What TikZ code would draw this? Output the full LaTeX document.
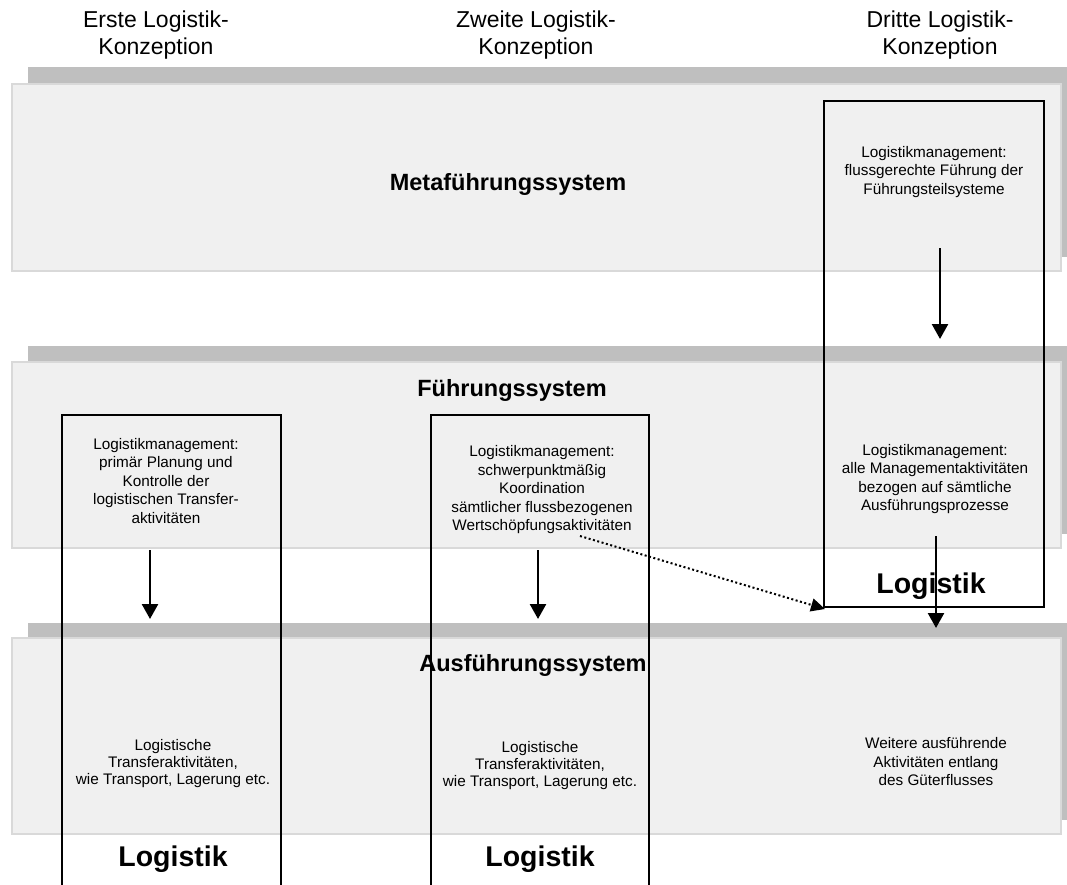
\documentclass[tikz,border=0pt]{standalone}
\usepackage{fontspec}
\setmainfont{Liberation Sans}
\usetikzlibrary{arrows.meta}
\tikzset{
	layer/.style={draw=black!15, line width=2pt, fill=black!6},
	layershadow/.style={fill=black!25},
	logbox/.style={line width=2pt},
	boxtext/.style={align=center, font=\fontsize{15.3}{18.5}\selectfont},
	exectext/.style={align=center, font=\fontsize{15.3}{17}\selectfont},
	headtext/.style={align=center, font=\fontsize{23}{27}\selectfont},
	layertitle/.style={font=\fontsize{23.5}{28}\selectfont\bfseries},
	logtitle/.style={font=\fontsize{28.5}{32}\selectfont\bfseries},
	flow/.style={line width=2.5pt, -{Triangle[length=15pt,width=16pt]}},
	hint/.style={line width=2pt, dash pattern=on 2pt off 2.5pt, -{Triangle[length=14pt,width=13pt]}}
}
\begin{document}
\begin{tikzpicture}[x=1pt, y=-1pt]
			%%%%% START %%%%%
			\useasboundingbox (0, 0) rectangle (1067, 885);
			
			% drei Schichten mit Schatten
			\fill[layershadow] (28, 67) rectangle (1067, 257);
			\draw[layer] (12, 84) rectangle (1061, 271);
			\fill[layershadow] (28, 346) rectangle (1067, 534);
			\draw[layer] (12, 362) rectangle (1061, 548);
			\fill[layershadow] (28, 623) rectangle (1067, 820);
			\draw[layer] (12, 638) rectangle (1061, 834);
			
			\node[layertitle] (meta) at (508, 184) {Metaführungssystem};
			\node[layertitle] (fuehr) at (512, 390) {Führungssystem};
			\node[layertitle] (ausf) at (533, 665) {Ausführungssystem};
			
			% Spaltenkoepfe
			\node[headtext] (hdA) at (156, 35) {Erste Logistik-\\Konzeption};
			\node[headtext] (hdB) at (536, 35) {Zweite Logistik-\\Konzeption};
			\node[headtext] (hdC) at (940, 35) {Dritte Logistik-\\Konzeption};
			
			% Logistik-Kaesten
			\draw[logbox] (62, 885) -- (62, 415) -- (281, 415) -- (281, 885);
			\draw[logbox] (431, 885) -- (431, 415) -- (649, 415) -- (649, 885);
			\draw[logbox] (824, 101) rectangle (1044, 607);
			
			\node[logtitle] (logA) at (173, 859) {Logistik};
			\node[logtitle] (logB) at (540, 859) {Logistik};
			\node[logtitle] (logC) at (931, 586) {Logistik};
			
			% Texte
			\node[boxtext] (mgMeta) at (934, 172) {Logistikmanagement:\\flussgerechte Führung der\\Führungsteilsysteme};
			\node[boxtext] (mgA) at (166, 481) {Logistikmanagement:\\primär Planung und\\Kontrolle der\\logistischen Transfer-\\aktivitäten};
			\node[boxtext] (mgB) at (542, 490) {Logistikmanagement:\\schwerpunktmäßig\\Koordination\\sämtlicher flussbezogenen\\Wertschöpfungsaktivitäten};
			\node[boxtext] (mgC) at (935, 479) {Logistikmanagement:\\alle Managementaktivitäten\\bezogen auf sämtliche\\Ausführungsprozesse};
			
			\node[exectext] (exA) at (173, 764) {Logistische\\Transferaktivitäten,\\wie Transport, Lagerung etc.};
			\node[exectext] (exB) at (540, 766) {Logistische\\Transferaktivitäten,\\wie Transport, Lagerung etc.};
			\node[boxtext] (exC) at (936, 762) {Weitere ausführende\\Aktivitäten entlang\\des Güterflusses};
			
			% Pfeile
			\coordinate (topC) at (940, 248);
			\coordinate (topCend) at (940, 339);
			\coordinate (midC) at (936, 536);
			\coordinate (midCend) at (936, 628);
			\coordinate (arrA) at (150, 550);
			\coordinate (arrAend) at (150, 619);
			\coordinate (arrB) at (538, 550);
			\coordinate (arrBend) at (538, 619);
			\coordinate (hintB) at (580, 536);
			\coordinate (hintC) at (825, 609);
			
			\draw[flow] (topC) -- (topCend);
			\draw[flow] (midC) -- (midCend);
			\draw[flow] (arrA) -- (arrAend);
			\draw[flow] (arrB) -- (arrBend);
			\draw[hint] (hintB) -- (hintC);
			
			%%%%% END %%%%%
\end{tikzpicture}
\end{document}
